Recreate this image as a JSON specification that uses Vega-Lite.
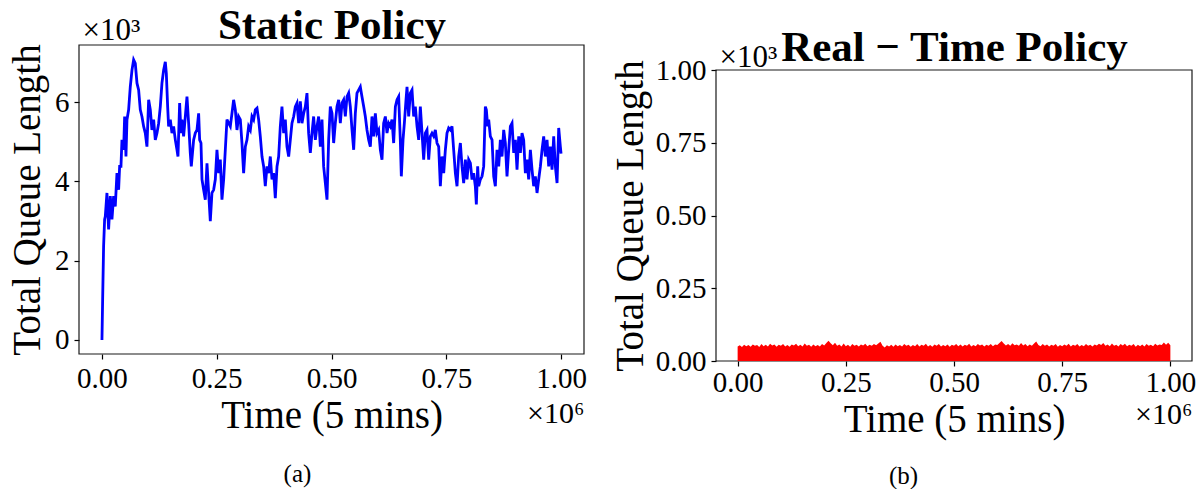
{
  "$schema": "https://vega.github.io/schema/vega-lite/v6.json",
  "background": "white",
  "padding": {"left": 8, "top": 4, "right": 0, "bottom": 0},
  "spacing": 24,
  "config": {
    "view": {"stroke": null},
    "axis": {"domain": false, "grid": false, "tickColor": "#000", "tickSize": 5, "tickWidth": 1.2,
      "labelFont": "Liberation Serif", "labelFontSize": 29, "labelColor": "#000",
      "titleFont": "Liberation Serif", "titleFontSize": 39, "titleFontWeight": "normal", "titleColor": "#000",
      "labelOverlap": false, "labelBound": false, "labelFlush": false, "labelLimit": 0},
    "title": {"font": "Liberation Serif", "color": "#000"}
  },
  "datasets": {
    "static": [
      {"t":0,"q":0},{"t":1500,"q":1020},{"t":3600,"q":2370},{"t":5800,"q":3040},{"t":7300,"q":3120},{"t":10900,"q":3710},{"t":14500,"q":2790},{"t":18200,"q":3630},{"t":21800,"q":3040},{"t":25400,"q":3630},{"t":29000,"q":3370},{"t":32700,"q":4210},{"t":36300,"q":3790},{"t":38500,"q":4380},{"t":41400,"q":4380},{"t":43600,"q":5050},{"t":47200,"q":4800},{"t":49400,"q":5640},{"t":52300,"q":4630},{"t":54500,"q":5560},{"t":58100,"q":5810},{"t":61700,"q":6390},{"t":65400,"q":6810},{"t":69000,"q":7070},{"t":72600,"q":6980},{"t":76300,"q":6480},{"t":79900,"q":6310},{"t":83500,"q":5810},{"t":87100,"q":5640},{"t":90800,"q":5390},{"t":94400,"q":5220},{"t":98000,"q":4880},{"t":101700,"q":6060},{"t":105300,"q":5810},{"t":108900,"q":5300},{"t":112600,"q":5560},{"t":116200,"q":5050},{"t":119800,"q":5220},{"t":123500,"q":5470},{"t":127100,"q":5890},{"t":130700,"q":6480},{"t":134300,"q":6810},{"t":138000,"q":7020},{"t":140200,"q":6730},{"t":143100,"q":5890},{"t":145200,"q":5390},{"t":148900,"q":5560},{"t":152500,"q":5220},{"t":156100,"q":5390},{"t":159800,"q":5050},{"t":163400,"q":4800},{"t":165600,"q":4630},{"t":169200,"q":5980},{"t":172100,"q":5220},{"t":174300,"q":5560},{"t":177900,"q":5140},{"t":181600,"q":5640},{"t":185200,"q":6140},{"t":188800,"q":5470},{"t":192400,"q":4720},{"t":194600,"q":4380},{"t":199700,"q":5050},{"t":203300,"q":5220},{"t":207000,"q":5300},{"t":210600,"q":5720},{"t":212800,"q":5050},{"t":215700,"q":4970},{"t":217900,"q":4050},{"t":221500,"q":3790},{"t":225100,"q":3540},{"t":228800,"q":4460},{"t":232400,"q":3710},{"t":236000,"q":3000},{"t":239600,"q":3710},{"t":243300,"q":3790},{"t":246900,"q":4050},{"t":250500,"q":4800},{"t":254200,"q":4210},{"t":257800,"q":4550},{"t":261400,"q":3540},{"t":265100,"q":4050},{"t":268700,"q":4800},{"t":272300,"q":5560},{"t":276000,"q":5470},{"t":279600,"q":5390},{"t":283200,"q":5720},{"t":286800,"q":6060},{"t":290500,"q":5810},{"t":294100,"q":5300},{"t":297700,"q":5640},{"t":301400,"q":5560},{"t":305000,"q":4970},{"t":308600,"q":4210},{"t":312300,"q":4880},{"t":315900,"q":5050},{"t":319500,"q":5390},{"t":323200,"q":5300},{"t":326800,"q":5640},{"t":330400,"q":5560},{"t":334100,"q":5810},{"t":337700,"q":5850},{"t":341300,"q":5560},{"t":344900,"q":5140},{"t":348600,"q":4630},{"t":352200,"q":4380},{"t":355800,"q":3880},{"t":359500,"q":4380},{"t":363100,"q":4210},{"t":366700,"q":4630},{"t":370400,"q":4050},{"t":374000,"q":4210},{"t":377600,"q":3580},{"t":381300,"q":4380},{"t":384900,"q":4630},{"t":388500,"q":5390},{"t":392100,"q":5890},{"t":395800,"q":5220},{"t":399400,"q":5560},{"t":403000,"q":4880},{"t":406700,"q":4630},{"t":410300,"q":5050},{"t":413900,"q":5470},{"t":417600,"q":5640},{"t":421200,"q":5890},{"t":424800,"q":5980},{"t":428500,"q":5470},{"t":432100,"q":6020},{"t":435700,"q":5470},{"t":439400,"q":5720},{"t":443000,"q":5890},{"t":446600,"q":6230},{"t":450200,"q":5220},{"t":453900,"q":4720},{"t":457500,"q":5220},{"t":461100,"q":5640},{"t":464800,"q":5050},{"t":468400,"q":5390},{"t":472000,"q":5640},{"t":475700,"q":4880},{"t":479300,"q":5560},{"t":482900,"q":4380},{"t":486600,"q":3960},{"t":490200,"q":3540},{"t":493800,"q":5050},{"t":497400,"q":5890},{"t":501100,"q":5720},{"t":504700,"q":4970},{"t":508300,"q":5470},{"t":512000,"q":5890},{"t":515600,"q":6060},{"t":519200,"q":5470},{"t":522900,"q":5980},{"t":526500,"q":6060},{"t":530100,"q":5640},{"t":533800,"q":6140},{"t":537400,"q":6230},{"t":541000,"q":5890},{"t":544700,"q":5300},{"t":548300,"q":4800},{"t":551900,"q":5720},{"t":555500,"q":6230},{"t":559200,"q":6310},{"t":562800,"q":6390},{"t":566400,"q":6140},{"t":570100,"q":5890},{"t":573700,"q":5640},{"t":577300,"q":5300},{"t":581000,"q":5050},{"t":584600,"q":4880},{"t":588200,"q":5640},{"t":591900,"q":5140},{"t":595500,"q":5720},{"t":599100,"q":5220},{"t":602700,"q":5300},{"t":606400,"q":4800},{"t":610000,"q":4550},{"t":613600,"q":5470},{"t":617300,"q":5640},{"t":620900,"q":5220},{"t":624500,"q":5470},{"t":628200,"q":5390},{"t":631800,"q":5560},{"t":635400,"q":4970},{"t":639100,"q":5890},{"t":642700,"q":6060},{"t":646300,"q":6140},{"t":649900,"q":5050},{"t":652100,"q":4130},{"t":655800,"q":5050},{"t":658700,"q":5470},{"t":662300,"q":6060},{"t":664500,"q":6390},{"t":668100,"q":5640},{"t":671700,"q":6230},{"t":675400,"q":6310},{"t":679000,"q":5640},{"t":682600,"q":5890},{"t":686300,"q":5390},{"t":689900,"q":5050},{"t":693500,"q":5890},{"t":697200,"q":5220},{"t":700800,"q":4550},{"t":704400,"q":5220},{"t":708000,"q":5300},{"t":711700,"q":4550},{"t":715300,"q":5140},{"t":718900,"q":5220},{"t":722600,"q":5140},{"t":726200,"q":5300},{"t":729800,"q":4970},{"t":733500,"q":4880},{"t":737100,"q":3880},{"t":740700,"q":4630},{"t":744400,"q":4210},{"t":748000,"q":4800},{"t":751600,"q":5220},{"t":755200,"q":5350},{"t":758900,"q":5300},{"t":762500,"q":5390},{"t":766100,"q":4800},{"t":769800,"q":4210},{"t":773400,"q":3880},{"t":777000,"q":4630},{"t":780700,"q":4970},{"t":784300,"q":4380},{"t":787900,"q":3960},{"t":791600,"q":4550},{"t":795200,"q":4050},{"t":798800,"q":4550},{"t":802500,"q":4460},{"t":806100,"q":4050},{"t":809700,"q":4210},{"t":813300,"q":3880},{"t":815500,"q":3420},{"t":818400,"q":4380},{"t":820600,"q":3880},{"t":824200,"q":4050},{"t":827900,"q":4130},{"t":831500,"q":4380},{"t":835100,"q":5890},{"t":837300,"q":5810},{"t":840200,"q":5390},{"t":842400,"q":5560},{"t":846000,"q":5140},{"t":849700,"q":5050},{"t":853300,"q":4130},{"t":856900,"q":3880},{"t":860500,"q":4800},{"t":864200,"q":4380},{"t":867800,"q":5050},{"t":871400,"q":4630},{"t":875100,"q":5300},{"t":878700,"q":4970},{"t":882300,"q":4130},{"t":886000,"q":4800},{"t":889600,"q":5390},{"t":893200,"q":5470},{"t":896900,"q":4720},{"t":900500,"q":5050},{"t":904100,"q":4300},{"t":907800,"q":5140},{"t":911400,"q":4720},{"t":915000,"q":5220},{"t":918600,"q":5050},{"t":922300,"q":4210},{"t":925900,"q":4550},{"t":929500,"q":4050},{"t":933200,"q":4800},{"t":936800,"q":4300},{"t":940400,"q":3880},{"t":944100,"q":4130},{"t":947700,"q":3710},{"t":951300,"q":4050},{"t":955000,"q":4380},{"t":958600,"q":4800},{"t":962200,"q":5140},{"t":965800,"q":4630},{"t":969500,"q":5050},{"t":973100,"q":4380},{"t":976700,"q":4880},{"t":980400,"q":4300},{"t":984000,"q":5140},{"t":987600,"q":4380},{"t":991300,"q":3960},{"t":994900,"q":5350},{"t":998500,"q":4880},{"t":1000000,"q":4700}
    ],
    "realtime": [
      {"t":0,"q":50},{"t":5000,"q":54},{"t":10000,"q":48},{"t":15000,"q":56},{"t":20000,"q":51},{"t":25000,"q":55},{"t":30000,"q":49},{"t":35000,"q":57},{"t":40000,"q":52},{"t":45000,"q":55},{"t":50000,"q":48},{"t":55000,"q":58},{"t":60000,"q":51},{"t":65000,"q":56},{"t":70000,"q":50},{"t":75000,"q":59},{"t":80000,"q":53},{"t":85000,"q":57},{"t":90000,"q":49},{"t":95000,"q":56},
      {"t":100000,"q":52},{"t":105000,"q":58},{"t":110000,"q":50},{"t":115000,"q":55},{"t":120000,"q":49},{"t":125000,"q":57},{"t":130000,"q":53},{"t":135000,"q":59},{"t":140000,"q":51},{"t":145000,"q":56},{"t":150000,"q":50},{"t":155000,"q":60},{"t":160000,"q":52},{"t":165000,"q":56},{"t":170000,"q":49},{"t":175000,"q":57},{"t":180000,"q":51},{"t":185000,"q":55},{"t":190000,"q":50},{"t":195000,"q":58},
      {"t":200000,"q":53},{"t":205000,"q":62},{"t":210000,"q":70},{"t":215000,"q":61},{"t":220000,"q":54},{"t":225000,"q":63},{"t":230000,"q":52},{"t":235000,"q":57},{"t":240000,"q":50},{"t":245000,"q":60},{"t":250000,"q":51},{"t":255000,"q":56},{"t":260000,"q":49},{"t":265000,"q":58},{"t":270000,"q":52},{"t":275000,"q":56},{"t":280000,"q":50},{"t":285000,"q":57},{"t":290000,"q":53},{"t":295000,"q":59},
      {"t":300000,"q":51},{"t":305000,"q":56},{"t":310000,"q":52},{"t":315000,"q":58},{"t":320000,"q":54},{"t":325000,"q":60},{"t":330000,"q":66},{"t":335000,"q":52},{"t":340000,"q":46},{"t":345000,"q":54},{"t":350000,"q":50},{"t":355000,"q":56},{"t":360000,"q":49},{"t":365000,"q":57},{"t":370000,"q":51},{"t":375000,"q":55},{"t":380000,"q":50},{"t":385000,"q":58},{"t":390000,"q":52},{"t":395000,"q":56},
      {"t":400000,"q":49},{"t":405000,"q":55},{"t":410000,"q":51},{"t":415000,"q":58},{"t":420000,"q":50},{"t":425000,"q":56},{"t":430000,"q":52},{"t":435000,"q":59},{"t":440000,"q":50},{"t":445000,"q":55},{"t":450000,"q":49},{"t":455000,"q":57},{"t":460000,"q":52},{"t":465000,"q":58},{"t":470000,"q":50},{"t":475000,"q":55},{"t":480000,"q":51},{"t":485000,"q":57},{"t":490000,"q":49},{"t":495000,"q":56},
      {"t":500000,"q":52},{"t":505000,"q":58},{"t":510000,"q":51},{"t":515000,"q":57},{"t":520000,"q":50},{"t":525000,"q":56},{"t":530000,"q":52},{"t":535000,"q":59},{"t":540000,"q":50},{"t":545000,"q":55},{"t":550000,"q":51},{"t":555000,"q":58},{"t":560000,"q":53},{"t":565000,"q":57},{"t":570000,"q":50},{"t":575000,"q":56},{"t":580000,"q":52},{"t":585000,"q":58},{"t":590000,"q":51},{"t":595000,"q":57},
      {"t":600000,"q":55},{"t":605000,"q":62},{"t":610000,"q":69},{"t":615000,"q":60},{"t":620000,"q":53},{"t":625000,"q":58},{"t":630000,"q":52},{"t":635000,"q":61},{"t":640000,"q":54},{"t":645000,"q":57},{"t":650000,"q":52},{"t":655000,"q":62},{"t":660000,"q":53},{"t":665000,"q":58},{"t":670000,"q":51},{"t":675000,"q":57},{"t":680000,"q":52},{"t":685000,"q":60},{"t":690000,"q":67},{"t":695000,"q":55},
      {"t":700000,"q":51},{"t":705000,"q":58},{"t":710000,"q":52},{"t":715000,"q":57},{"t":720000,"q":50},{"t":725000,"q":56},{"t":730000,"q":52},{"t":735000,"q":58},{"t":740000,"q":49},{"t":745000,"q":55},{"t":750000,"q":51},{"t":755000,"q":57},{"t":760000,"q":52},{"t":765000,"q":59},{"t":770000,"q":50},{"t":775000,"q":56},{"t":780000,"q":52},{"t":785000,"q":58},{"t":790000,"q":50},{"t":795000,"q":55},
      {"t":800000,"q":51},{"t":805000,"q":58},{"t":810000,"q":52},{"t":815000,"q":56},{"t":820000,"q":50},{"t":825000,"q":57},{"t":830000,"q":53},{"t":835000,"q":59},{"t":840000,"q":55},{"t":845000,"q":62},{"t":850000,"q":52},{"t":855000,"q":57},{"t":860000,"q":51},{"t":865000,"q":60},{"t":870000,"q":52},{"t":875000,"q":56},{"t":880000,"q":50},{"t":885000,"q":58},{"t":890000,"q":53},{"t":895000,"q":59},
      {"t":900000,"q":51},{"t":905000,"q":56},{"t":910000,"q":52},{"t":915000,"q":58},{"t":920000,"q":49},{"t":925000,"q":56},{"t":930000,"q":51},{"t":935000,"q":57},{"t":940000,"q":50},{"t":945000,"q":58},{"t":950000,"q":52},{"t":955000,"q":56},{"t":960000,"q":51},{"t":965000,"q":59},{"t":970000,"q":53},{"t":975000,"q":57},{"t":980000,"q":55},{"t":985000,"q":64},{"t":990000,"q":56},{"t":995000,"q":63},{"t":1000000,"q":54}
    ]
  },
  "hconcat": [
    {
      "title": {"text": "(a)", "orient": "bottom", "fontSize": 25, "fontWeight": "normal", "offset": 27, "anchor": "middle"},
      "vconcat": [
        {
          "width": 505,
          "height": 309,
          "resolve": {"axis": {"x": "independent", "y": "independent"}},
          "layer": [
            {
              "data": {"values": [{}]},
              "mark": {"type": "rect", "filled": false, "stroke": "#1a1a1a", "strokeWidth": 1.2},
              "encoding": {
                "x": {"datum": -50000, "type": "quantitative",
                  "scale": {"domain": [-50000, 1050000], "nice": false, "zero": false},
                  "axis": {"orient": "top", "title": "Static Policy", "labels": false, "ticks": false, "domain": false,
                    "titleFontSize": 43, "titleFontWeight": "bold", "titleBaseline": "alphabetic", "titleY": -7}},
                "x2": {"datum": 1050000},
                "y": {"datum": -354, "type": "quantitative",
                  "scale": {"domain": [-354, 7444], "nice": false, "zero": false}, "axis": null},
                "y2": {"datum": 7444}
              }
            },
            {
              "data": {"name": "static"},
              "mark": {"type": "line", "color": "#0000ff", "strokeWidth": 2.8, "strokeJoin": "miter", "clip": true},
              "encoding": {
                "x": {"field": "t", "type": "quantitative",
                  "scale": {"domain": [-50000, 1050000], "nice": false, "zero": false},
                  "axis": {"orient": "bottom", "title": "Time (5 mins)", "values": [0, 250000, 500000, 750000, 1000000, 1050000],
                    "labelExpr": "datum.value > 1000001 ? '×10⁶' : format(datum.value / 1000000, '.2f')",
                    "labelAlign": {"condition": {"test": "datum.value > 1000001", "value": "right"}, "value": "center"},
                    "labelPadding": {"condition": {"test": "datum.value > 1000001", "value": 39}, "value": 5},
                    "labelFontSize": {"condition": {"test": "datum.value > 1000001", "value": 30}, "value": 29},
                    "tickOpacity": {"condition": {"test": "datum.value > 1000001", "value": 0}, "value": 1},
                    "titlePadding": -32}},
                "y": {"field": "q", "type": "quantitative",
                  "scale": {"domain": [-354, 7444], "nice": false, "zero": false},
                  "axis": {"title": "Total Queue Length", "values": [0, 2000, 4000, 6000, 7444],
                    "labelExpr": "datum.value > 7000 ? '×10³' : format(datum.value / 1000, 'd')",
                    "labelAlign": {"condition": {"test": "datum.value > 7000", "value": "left"}, "value": "right"},
                    "labelBaseline": {"condition": {"test": "datum.value > 7000", "value": "alphabetic"}, "value": "middle"},
                    "labelPadding": {"condition": {"test": "datum.value > 7000", "value": -8}, "value": 5},
                    "labelOffset": {"condition": {"test": "datum.value > 7000", "value": -6}, "value": 0},
                    "labelFontSize": {"condition": {"test": "datum.value > 7000", "value": 31}, "value": 29},
                    "tickOpacity": {"condition": {"test": "datum.value > 7000", "value": 0}, "value": 1},
                    "titlePadding": 7}}
              }
            }
          ]
        }
      ]
    },
    {
      "title": {"text": "(b)", "orient": "bottom", "fontSize": 25, "fontWeight": "normal", "offset": 25, "anchor": "middle"},
      "vconcat": [
        {
          "width": 476,
          "height": 316,
          "resolve": {"axis": {"x": "independent", "y": "independent"}},
          "layer": [
            {
              "data": {"values": [{}]},
              "mark": {"type": "rect", "filled": false, "stroke": "#1a1a1a", "strokeWidth": 1.2},
              "encoding": {
                "x": {"datum": -50000, "type": "quantitative",
                  "scale": {"domain": [-50000, 1050000], "nice": false, "zero": false},
                  "axis": {"orient": "top", "title": "Real − Time Policy", "labels": false, "ticks": false, "domain": false,
                    "titleFontSize": 43, "titleFontWeight": "bold", "titleBaseline": "alphabetic", "titleY": 15}},
                "x2": {"datum": 1050000},
                "y": {"datum": 0, "type": "quantitative",
                  "scale": {"domain": [0, 1000], "nice": false, "zero": true, "range": [316, 25]}, "axis": null},
                "y2": {"datum": 1000}
              }
            },
            {
              "data": {"name": "realtime"},
              "mark": {"type": "area", "color": "#ff0000", "clip": true},
              "encoding": {
                "x": {"field": "t", "type": "quantitative",
                  "scale": {"domain": [-50000, 1050000], "nice": false, "zero": false},
                  "axis": {"orient": "bottom", "title": "Time (5 mins)", "values": [0, 250000, 500000, 750000, 1000000, 1050000],
                    "labelExpr": "datum.value > 1000001 ? '×10⁶' : format(datum.value / 1000000, '.2f')",
                    "labelAlign": {"condition": {"test": "datum.value > 1000001", "value": "right"}, "value": "center"},
                    "labelPadding": {"condition": {"test": "datum.value > 1000001", "value": 33}, "value": 2},
                    "labelFontSize": {"condition": {"test": "datum.value > 1000001", "value": 30}, "value": 29},
                    "tickOpacity": {"condition": {"test": "datum.value > 1000001", "value": 0}, "value": 1},
                    "titlePadding": -29}},
                "y": {"field": "q", "type": "quantitative",
                  "scale": {"domain": [0, 1000], "nice": false, "zero": true, "range": [316, 25]},
                  "axis": {"title": "Total Queue Length", "values": [0, 250, 500, 750, 1000, 999.99],
                    "labelExpr": "(datum.value > 999 && datum.value < 1000) ? '×10³' : format(datum.value / 1000, '.2f')",
                    "labelAlign": {"condition": {"test": "datum.value > 999 && datum.value < 1000", "value": "left"}, "value": "right"},
                    "labelBaseline": {"condition": {"test": "datum.value > 999 && datum.value < 1000", "value": "alphabetic"}, "value": "middle"},
                    "labelPadding": {"condition": {"test": "datum.value > 999 && datum.value < 1000", "value": -8}, "value": 5},
                    "labelOffset": {"condition": {"test": "datum.value > 999 && datum.value < 1000", "value": -4}, "value": 0},
                    "labelFontSize": {"condition": {"test": "datum.value > 999 && datum.value < 1000", "value": 31}, "value": 29},
                    "tickOpacity": {"condition": {"test": "datum.value > 999 && datum.value < 1000", "value": 0}, "value": 1},
                    "titlePadding": 5}}
              }
            }
          ]
        }
      ]
    }
  ]
}
